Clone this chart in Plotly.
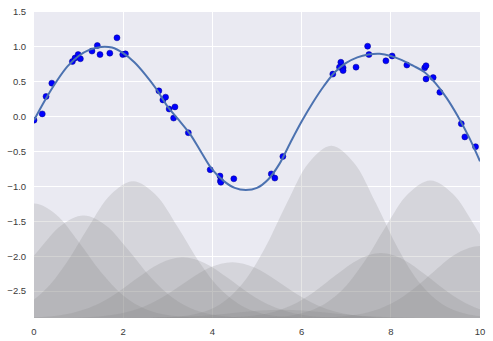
import plotly.graph_objects as go

# ---- data ----
pts_x = [0.00, 0.185, 0.27, 0.40, 0.86, 0.92, 0.99, 1.04, 1.30, 1.42, 1.48, 1.70, 1.86, 1.99, 2.05,
         2.80, 2.89, 2.95, 3.03, 3.16, 3.13, 3.46, 3.95, 4.17, 4.18, 4.19, 4.48, 5.32, 5.40, 5.58,
         6.70, 6.88, 6.85, 6.93, 6.93, 7.22, 7.48, 7.51, 7.89, 8.03, 8.36, 8.76, 8.79, 8.79, 8.95, 9.10,
         9.58, 9.66, 9.90]
pts_y = [-0.05, 0.04, 0.29, 0.48, 0.79, 0.84, 0.89, 0.83, 0.94, 1.02, 0.89, 0.91, 1.13, 0.89, 0.90,
         0.37, 0.24, 0.28, 0.11, 0.14, -0.02, -0.23, -0.76, -0.85, -0.92, -0.94, -0.89, -0.82, -0.88, -0.57,
         0.61, 0.78, 0.71, 0.70, 0.66, 0.71, 1.01, 0.89, 0.80, 0.87, 0.74, 0.70, 0.73, 0.54, 0.56, 0.35,
         -0.10, -0.29, -0.43]

fit_x = [0.0, 0.25, 0.5, 0.75, 1.0, 1.25, 1.5, 1.75, 2.0, 2.25, 2.5, 2.75, 3.0, 3.25, 3.5, 3.75, 4.0,
         4.25, 4.5, 4.75, 5.0, 5.25, 5.5, 5.75, 6.0, 6.25, 6.5, 6.75, 7.0, 7.25, 7.5, 7.75, 8.0,
         8.25, 8.5, 8.75, 9.0, 9.25, 9.5, 9.75, 10.0]
fit_y = [-0.05, 0.24, 0.50, 0.72, 0.87, 0.96, 1.00, 0.99, 0.91, 0.78, 0.60, 0.39, 0.14, -0.05, -0.25,
         -0.51, -0.76, -0.92, -1.02, -1.05, -1.02, -0.90, -0.68, -0.37, -0.07, 0.20, 0.44, 0.64, 0.77,
         0.85, 0.89, 0.90, 0.87, 0.81, 0.73, 0.64, 0.48, 0.27, 0.01, -0.29, -0.64]

# gaussian basis curves: centres and profile values at offsets from centre
basis_centers = [0.0, 1.111, 2.222, 3.333, 4.444, 5.556, 6.667, 7.778, 8.889, 10.0]
basis_offsets = [-4.0, -3.5, -3.0, -2.5, -2.0, -1.5, -1.0, -0.5, 0.0, 0.5, 1.0, 1.5, 2.0, 2.5, 3.0, 3.5, 4.0]
basis_y = [
    [-2.883, -2.874, -2.842, -2.755, -2.562, -2.227, -1.793, -1.404, -1.245, -1.404, -1.793, -2.227, -2.562, -2.755, -2.842, -2.874, -2.883],
    [-2.883, -2.875, -2.847, -2.769, -2.595, -2.296, -1.906, -1.558, -1.415, -1.558, -1.906, -2.296, -2.595, -2.769, -2.847, -2.875, -2.883],
    [-2.882, -2.872, -2.834, -2.730, -2.499, -2.099, -1.580, -1.115, -0.925, -1.115, -1.580, -2.099, -2.499, -2.730, -2.834, -2.872, -2.882],
    [-2.884, -2.879, -2.862, -2.816, -2.714, -2.536, -2.306, -2.099, -2.015, -2.099, -2.306, -2.536, -2.714, -2.816, -2.862, -2.879, -2.884],
    [-2.884, -2.880, -2.864, -2.822, -2.727, -2.564, -2.352, -2.163, -2.085, -2.163, -2.352, -2.564, -2.727, -2.822, -2.864, -2.880, -2.884],
    [-2.885, -2.884, -2.882, -2.876, -2.861, -2.837, -2.805, -2.777, -2.765, -2.777, -2.805, -2.837, -2.861, -2.876, -2.882, -2.884, -2.885],
    [-2.881, -2.868, -2.821, -2.690, -2.398, -1.895, -1.240, -0.655, -0.415, -0.655, -1.240, -1.895, -2.398, -2.690, -2.821, -2.868, -2.881],
    [-2.884, -2.879, -2.861, -2.812, -2.702, -2.512, -2.266, -2.045, -1.955, -2.045, -2.266, -2.512, -2.702, -2.812, -2.861, -2.879, -2.884],
    [-2.882, -2.871, -2.834, -2.729, -2.497, -2.095, -1.573, -1.106, -0.915, -1.106, -1.573, -2.095, -2.497, -2.729, -2.834, -2.871, -2.882],
    [-2.884, -2.878, -2.858, -2.804, -2.682, -2.472, -2.199, -1.955, -1.855, -1.955, -2.199, -2.472, -2.682, -2.804, -2.858, -2.878, -2.884],
]
baseline = -2.885

x_ticks = [0, 2, 4, 6, 8, 10]
y_ticks = [1.5, 1.0, 0.5, 0.0, -0.5, -1.0, -1.5, -2.0, -2.5]

fig = go.Figure()

for c, ys in zip(basis_centers, basis_y):
    xs = [c + o for o in basis_offsets]
    fig.add_trace(go.Scatter(x=[xs[0], xs[-1]], y=[baseline, baseline], mode="lines",
                             line=dict(width=0, color="rgba(0,0,0,0)"), hoverinfo="skip",
                             showlegend=False))
    fig.add_trace(go.Scatter(x=xs, y=ys, mode="lines", line=dict(width=0, shape="spline",
                             color="rgba(0,0,0,0)"), fill="tonexty",
                             fillcolor="rgba(128,128,128,0.2)", hoverinfo="skip", showlegend=False))

fig.add_trace(go.Scatter(x=pts_x, y=pts_y, mode="markers",
                         marker=dict(size=6, color="#0000ff", line=dict(width=0.5, color="#00008b")),
                         showlegend=False))
fig.add_trace(go.Scatter(x=fit_x, y=fit_y, mode="lines",
                         line=dict(color="#4c72b0", width=2, shape="spline"), showlegend=False))

fig.update_layout(
    width=493, height=341,
    margin=dict(l=34, r=12.5, t=12, b=23),
    paper_bgcolor="white", plot_bgcolor="#eaeaf2",
    font=dict(family="Liberation Sans, Arial, sans-serif", size=9.5, color="#3a3a3a"),
    showlegend=False,
)
fig.update_xaxes(range=[0, 10], tickvals=x_ticks, ticktext=[str(v) for v in x_ticks],
                 automargin=False,
                 showgrid=True, gridcolor="white", gridwidth=1, zeroline=False, showline=False,
                 ticks="outside", ticklen=5, tickcolor="rgba(0,0,0,0)")
fig.update_yaxes(range=[baseline, 1.5], tickvals=y_ticks, tickformat=".1f",
                 automargin=False,
                 showgrid=True, gridcolor="white", gridwidth=1, zeroline=False, showline=False,
                 ticks="outside", ticklen=5, tickcolor="rgba(0,0,0,0)")

fig.write_html("out.html")
